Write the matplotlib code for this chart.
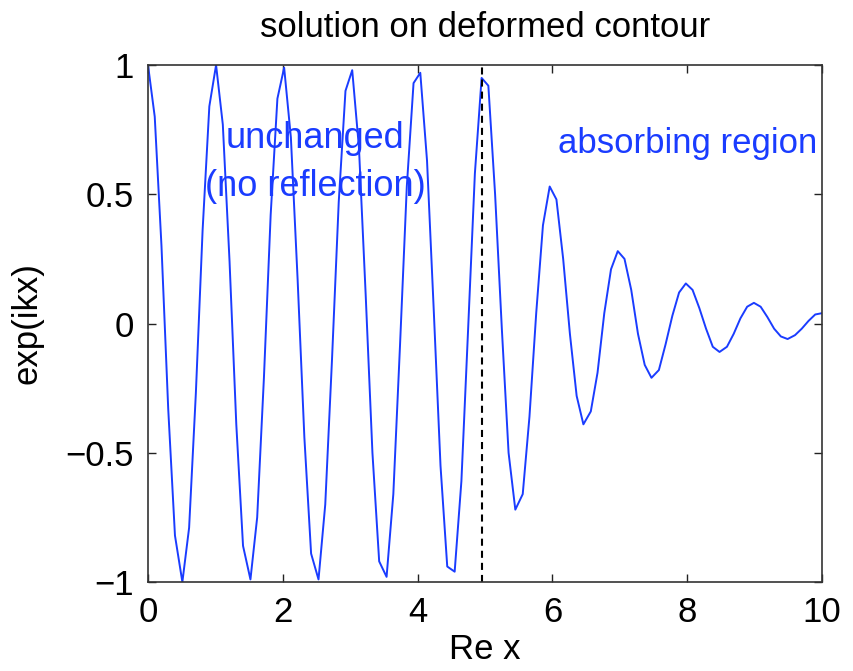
import matplotlib
matplotlib.use('Agg')
import matplotlib.pyplot as plt

plt.rcParams['font.family'] = ['Liberation Sans', 'DejaVu Sans']

# sample positions along Re x
x = [0.00, 0.10, 0.20, 0.30, 0.40, 0.51, 0.61, 0.71, 0.81, 0.91,
     1.01, 1.11, 1.21, 1.31, 1.41, 1.52, 1.62, 1.72, 1.82, 1.92,
     2.02, 2.12, 2.22, 2.32, 2.42, 2.53, 2.63, 2.73, 2.83, 2.93,
     3.03, 3.13, 3.23, 3.33, 3.43, 3.54, 3.64, 3.74, 3.84, 3.94,
     4.04, 4.14, 4.24, 4.34, 4.44, 4.55, 4.65, 4.75, 4.85, 4.95,
     5.05, 5.15, 5.25, 5.35, 5.45, 5.56, 5.66, 5.76, 5.86, 5.96,
     6.06, 6.16, 6.26, 6.36, 6.46, 6.57, 6.67, 6.77, 6.87, 6.97,
     7.07, 7.17, 7.27, 7.37, 7.47, 7.58, 7.68, 7.78, 7.88, 7.98,
     8.08, 8.18, 8.28, 8.38, 8.48, 8.59, 8.69, 8.79, 8.89, 8.99,
     9.09, 9.19, 9.29, 9.39, 9.49, 9.60, 9.70, 9.80, 9.90, 10.00]

y = [1.00, 0.80, 0.30, -0.33, -0.82, -1.00, -0.79, -0.27, 0.36, 0.84,
     1.00, 0.77, 0.24, -0.39, -0.86, -0.99, -0.75, -0.21, 0.42, 0.87,
     0.99, 0.72, 0.17, -0.44, -0.89, -0.99, -0.70, -0.14, 0.47, 0.90,
     0.98, 0.68, 0.11, -0.50, -0.92, -0.98, -0.66, -0.08, 0.53, 0.93,
     0.97, 0.63, 0.05, -0.55, -0.94, -0.96, -0.61, -0.02, 0.58, 0.95,
     0.92, 0.50, -0.02, -0.50, -0.72, -0.66, -0.36, 0.04, 0.38, 0.53,
     0.48, 0.25, -0.04, -0.28, -0.39, -0.34, -0.19, 0.04, 0.21, 0.28,
     0.25, 0.13, -0.04, -0.16, -0.21, -0.18, -0.08, 0.03, 0.12, 0.155,
     0.13, 0.06, -0.02, -0.09, -0.11, -0.09, -0.04, 0.02, 0.065, 0.08,
     0.065, 0.025, -0.02, -0.05, -0.06, -0.045, -0.02, 0.01, 0.035, 0.04]

x_split = 4.95
xticks = [0, 2, 4, 6, 8, 10]
yticks = [-1, -0.5, 0, 0.5, 1]
ytick_labels = ['\u22121', '\u22120.5', '0', '0.5', '1']

blue = '#1a3cff'

fig = plt.figure(figsize=(8.54, 6.71), dpi=100)
ax = fig.add_axes([0.1733, 0.1326, 0.7892, 0.7705])

ax.plot(x, y, color=blue, lw=1.4)
ax.axvline(x_split, color='black', lw=1.5, ls=(0, (3.4, 2.4)))

ax.set_xlim(0, 10)
ax.set_ylim(-1, 1)
ax.set_xticks(xticks)
ax.set_xticklabels([str(t) for t in xticks])
ax.set_yticks(yticks)
ax.set_yticklabels(ytick_labels)
ax.tick_params(direction='in', length=6, width=1, labelsize=25,
               top=True, right=True, pad=10, colors='#222222',
               labelcolor='black')
for s in ax.spines.values():
    s.set_linewidth(1.2)
    s.set_color('#333333')

ax.set_title('solution on deformed contour', fontsize=25, pad=20)
ax.set_xlabel('Re x', fontsize=25, labelpad=3)
ax.set_ylabel('exp(ikx)', fontsize=25, labelpad=16)

ax.text(2.48, 0.715, 'unchanged', color=blue, fontsize=26,
        ha='center', va='center')
ax.text(2.48, 0.53, '(no reflection)', color=blue, fontsize=26,
        ha='center', va='center')
ax.text(8.0, 0.696, 'absorbing region', color=blue, fontsize=25,
        ha='center', va='center')

fig.savefig('out.png', dpi=100)
